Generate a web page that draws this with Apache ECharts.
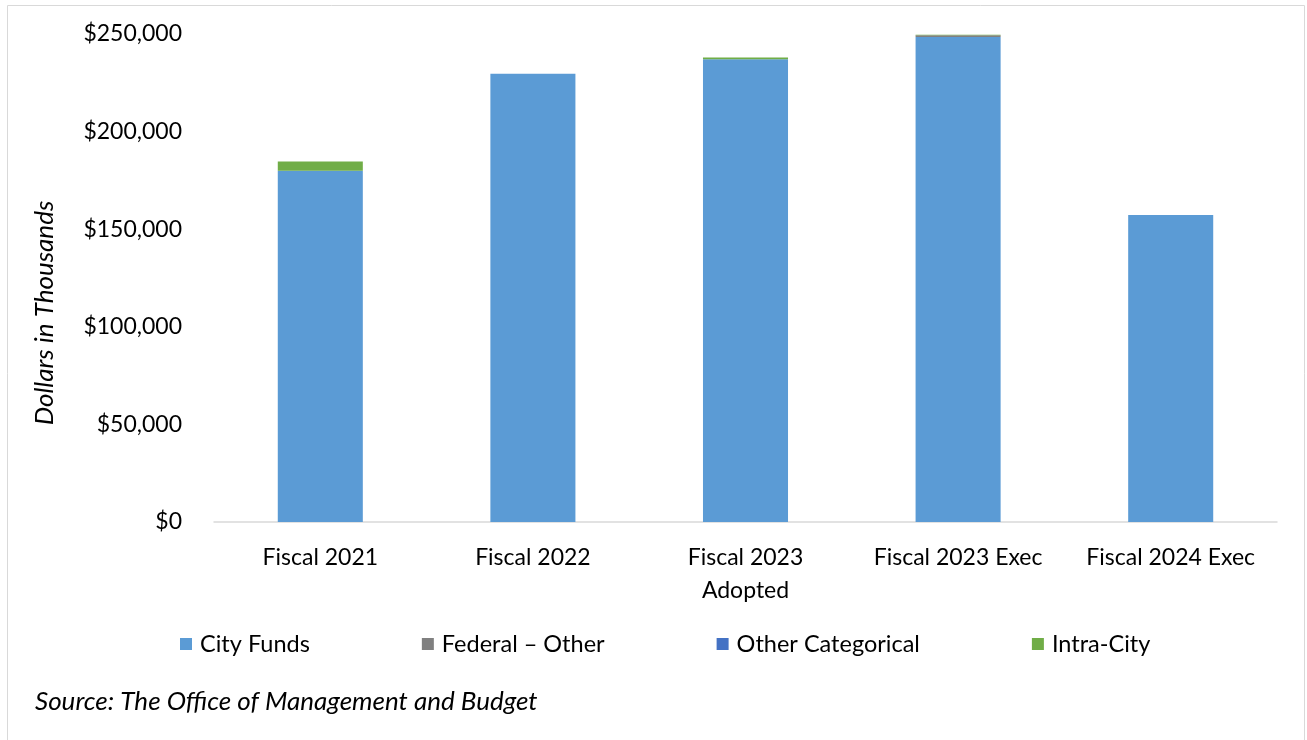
<!DOCTYPE html>
<html>
<head>
<meta charset="utf-8">
<script src="https://cdn.jsdelivr.net/npm/echarts@6/dist/echarts.min.js"></script>
<style>
html,body{margin:0;padding:0;background:#fff;}
#chart{width:1307px;height:740px;}
</style>
</head>
<body>
<div id="chart"></div>
<script>
const categories = ['Fiscal 2021', 'Fiscal 2022', 'Fiscal 2023\nAdopted', 'Fiscal 2023 Exec', 'Fiscal 2024 Exec'];
const cityFunds = [180000, 229700, 237100, 248500, 157300];
const federalOther = [0, 0, 0, 900, 0];
const otherCategorical = [0, 0, 0, 0, 0];
const intraCity = [4700, 0, 800, 200, 0];
const yTicks = [0, 50000, 100000, 150000, 200000, 250000];

const FONT = 'Lato';
const chart = echarts.init(document.getElementById('chart'));
const fmt = v => '$' + v.toLocaleString('en-US');

function bar(name, data, color) {
  return {
    name: name, type: 'bar', stack: 'total', data: data, barWidth: '40%',
    itemStyle: {color: color}, emphasis: {disabled: true}
  };
}

chart.setOption({
  animation: false,
  textStyle: {fontFamily: FONT},
  graphic: [
    {type: 'rect', shape: {x: 7.5, y: 5.5, width: 1297, height: 760},
     style: {fill: 'none', stroke: '#d9d9d9', lineWidth: 1}, silent: true},
    {type: 'text', x: 45, y: 313, rotation: Math.PI / 2,
     style: {text: 'Dollars in Thousands', font: 'italic 26px Lato', fill: '#000',
             textAlign: 'center', textVerticalAlign: 'middle'}},
    {type: 'text', left: 35, top: 689,
     style: {text: 'Source: The Office of Management and Budget', font: 'italic 26px Lato', fill: '#000'}}
  ],
  grid: {left: 214, right: 30, top: 34, bottom: 218, containLabel: false},
  legend: {
    left: 175, top: 627, itemWidth: 12, itemHeight: 12, itemGap: 112, icon: 'rect',
    textStyle: {fontSize: 23.5, fontFamily: FONT, color: '#000', padding: [0, 0, 0, 3]},
    data: ['City Funds', 'Federal – Other', 'Other Categorical', 'Intra-City'],
    selectedMode: false
  },
  xAxis: {
    type: 'category', data: categories,
    axisLine: {lineStyle: {color: '#d9d9d9', width: 1.5}},
    axisTick: {show: false},
    axisLabel: {fontSize: 23, color: '#000', margin: 19, lineHeight: 33, interval: 0, fontFamily: FONT}
  },
  yAxis: {
    type: 'value', min: yTicks[0], max: yTicks[yTicks.length - 1], interval: 50000,
    splitLine: {show: false}, axisLine: {show: false}, axisTick: {show: false},
    axisLabel: {fontSize: 23, color: '#000', margin: 32, formatter: fmt, fontFamily: FONT}
  },
  series: [
    bar('City Funds', cityFunds, '#5B9BD5'),
    bar('Federal – Other', federalOther, '#808080'),
    bar('Other Categorical', otherCategorical, '#4472C4'),
    bar('Intra-City', intraCity, '#70AD47')
  ]
});
</script>
</body>
</html>
